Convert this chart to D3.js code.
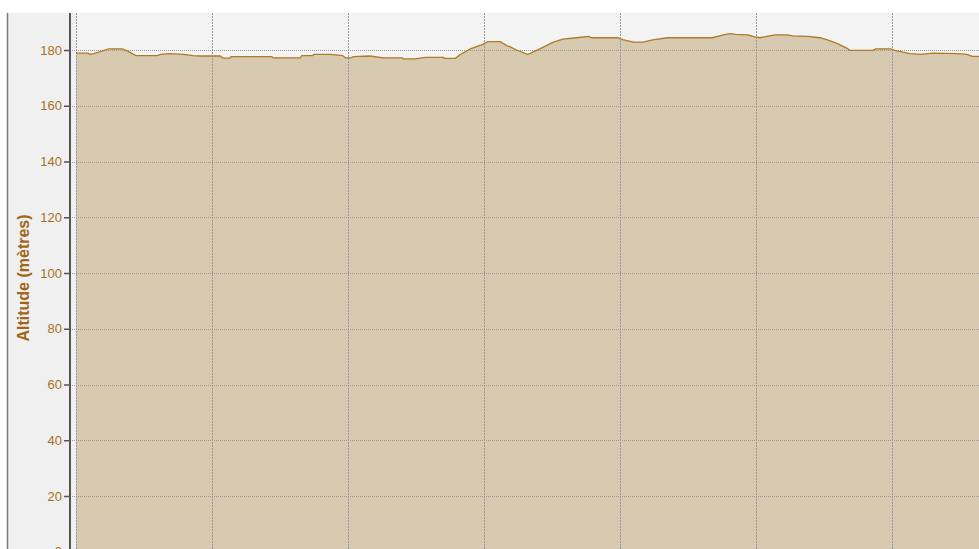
<!DOCTYPE html>
<html>
<head>
<meta charset="utf-8">
<script src="https://cdn.jsdelivr.net/npm/d3@7"></script>
<style>
  body { margin: 0; background: #fff; overflow: hidden; }
  svg { display: block; font-family: "Liberation Sans", Arial, sans-serif; }
</style>
</head>
<body>
<script>
// distance along the track (km) and altitude (m)
const distances = [0, 0.09, 0.10, 0.13, 0.18, 0.24, 0.34, 0.38, 0.44, 0.60, 0.62, 0.69, 0.79, 0.86, 0.91,
  1.06, 1.08, 1.13, 1.14, 1.44, 1.45, 1.65, 1.66, 1.74, 1.75, 1.87, 1.96, 1.98, 2.02, 2.04, 2.16,
  2.26, 2.40, 2.41, 2.49, 2.57, 2.70, 2.71, 2.79, 2.82, 2.90, 2.99, 3.03, 3.12, 3.17, 3.19, 3.24,
  3.32, 3.34, 3.41, 3.51, 3.58, 3.68, 3.77, 3.79, 3.98, 4.02, 4.10, 4.17, 4.24, 4.35, 4.68, 4.76,
  4.81, 4.85, 4.94, 4.99, 5.03, 5.08, 5.14, 5.23, 5.27, 5.38, 5.47, 5.52, 5.60, 5.67, 5.69, 5.86,
  5.88, 5.99, 6.02, 6.08, 6.13, 6.21, 6.30, 6.48, 6.55, 6.59, 6.70];
const altitudes = [178.9, 178.9, 178.45, 178.7, 179.4, 180.4, 180.4, 179.6, 178.0, 178.0, 178.45, 178.7, 178.45, 178.0, 177.85,
  177.85, 177.1, 177.1, 177.6, 177.6, 177.2, 177.2, 178.0, 178.0, 178.45, 178.45, 178.0, 177.2, 177.2, 177.6, 177.85,
  177.2, 177.2, 176.8, 176.8, 177.35, 177.35, 177.0, 177.0, 178.2, 180.4, 182.0, 183.0, 183.0, 181.5, 181.2, 180.0,
  178.45, 178.8, 180.4, 182.8, 183.9, 184.4, 184.9, 184.4, 184.4, 183.7, 182.8, 182.8, 183.6, 184.4, 184.4, 185.4,
  185.85, 185.6, 185.4, 184.7, 184.4, 184.9, 185.4, 185.4, 185.1, 184.9, 184.4, 183.7, 182.3, 180.6, 179.9, 179.9,
  180.4, 180.4, 179.9, 179.2, 178.7, 178.45, 178.9, 178.7, 178.45, 177.7, 177.7];
const yTicks = [0, 20, 40, 60, 80, 100, 120, 140, 160, 180];
const xGrid = [0, 1, 2, 3, 4, 5, 6, 7];

const W = 979, H = 549;
const plotLeft = 76, plotTop = 13;

const svg = d3.select("body").append("svg")
  .attr("width", W)
  .attr("height", H);

// backgrounds
svg.append("rect").attr("x", 0).attr("y", 0).attr("width", W).attr("height", H).attr("fill", "#ffffff");
svg.append("rect").attr("x", 7).attr("y", plotTop).attr("width", W - 7).attr("height", H - plotTop).attr("fill", "#f0f0f0");
svg.append("line").attr("x1", 7.5).attr("x2", 7.5).attr("y1", plotTop).attr("y2", H)
  .attr("stroke", "#7a7a7a").attr("stroke-width", 1.5);
svg.append("rect").attr("x", plotLeft).attr("y", plotTop).attr("width", W - plotLeft).attr("height", H - plotTop).attr("fill", "#f3f3f3");

const x = d3.scaleLinear().domain([0, 1]).range([plotLeft, plotLeft + 136]);
const y = d3.scaleLinear().domain([0, 180]).range([551.75, 551.75 - 180 * 2.7875]);

const data = distances.map((d, i) => ({ d: d, a: altitudes[i] }));

// area
svg.append("path")
  .datum(data)
  .attr("fill", "#d8c9b1")
  .attr("d", d3.area().x(p => x(p.d)).y0(y(0) + 10).y1(p => y(p.a)));

// gridlines
const grid = svg.append("g");
grid.selectAll(".hg")
  .data(yTicks.filter(t => t > 0))
  .enter().append("line")
  .attr("x1", 70).attr("x2", W)
  .attr("y1", d => Math.round(y(d)) + 0.5).attr("y2", d => Math.round(y(d)) + 0.5)
  .attr("stroke", "#999999").attr("stroke-width", 1).attr("stroke-dasharray", "1,1");
grid.selectAll(".vg")
  .data(xGrid)
  .enter().append("line")
  .attr("x1", d => Math.round(x(d)) + 0.5).attr("x2", d => Math.round(x(d)) + 0.5)
  .attr("y1", plotTop).attr("y2", H)
  .attr("stroke", "#999999").attr("stroke-width", 1).attr("stroke-dasharray", "2,1");

// profile line
svg.append("path")
  .datum(data)
  .attr("fill", "none")
  .attr("stroke", "#b07a26")
  .attr("stroke-width", 1.3)
  .attr("d", d3.line().x(p => x(p.d)).y(p => y(p.a)));

// y axis
const yAxis = d3.axisLeft(y).tickValues(yTicks).tickSize(6).tickSizeOuter(0).tickPadding(2);
const ax = svg.append("g")
  .attr("transform", "translate(70,0)")
  .call(yAxis);
ax.select(".domain").remove();
ax.append("line").attr("x1", 0).attr("x2", 0).attr("y1", plotTop).attr("y2", H)
  .attr("stroke", "#555555").attr("stroke-width", 2);
ax.selectAll(".tick line").attr("stroke", "#555555").attr("stroke-width", 1.5);
ax.selectAll(".tick text")
  .attr("fill", "#a8701e")
  .style("font-size", "13px")
  .style("font-family", "'Liberation Sans', Arial, sans-serif");

// axis title
svg.append("text")
  .attr("transform", "translate(29,278) rotate(-90)")
  .attr("text-anchor", "middle")
  .attr("fill", "#a0661a")
  .style("font-size", "16px")
  .style("font-weight", "bold")
  .text("Altitude (mètres)");
</script>
</body>
</html>
